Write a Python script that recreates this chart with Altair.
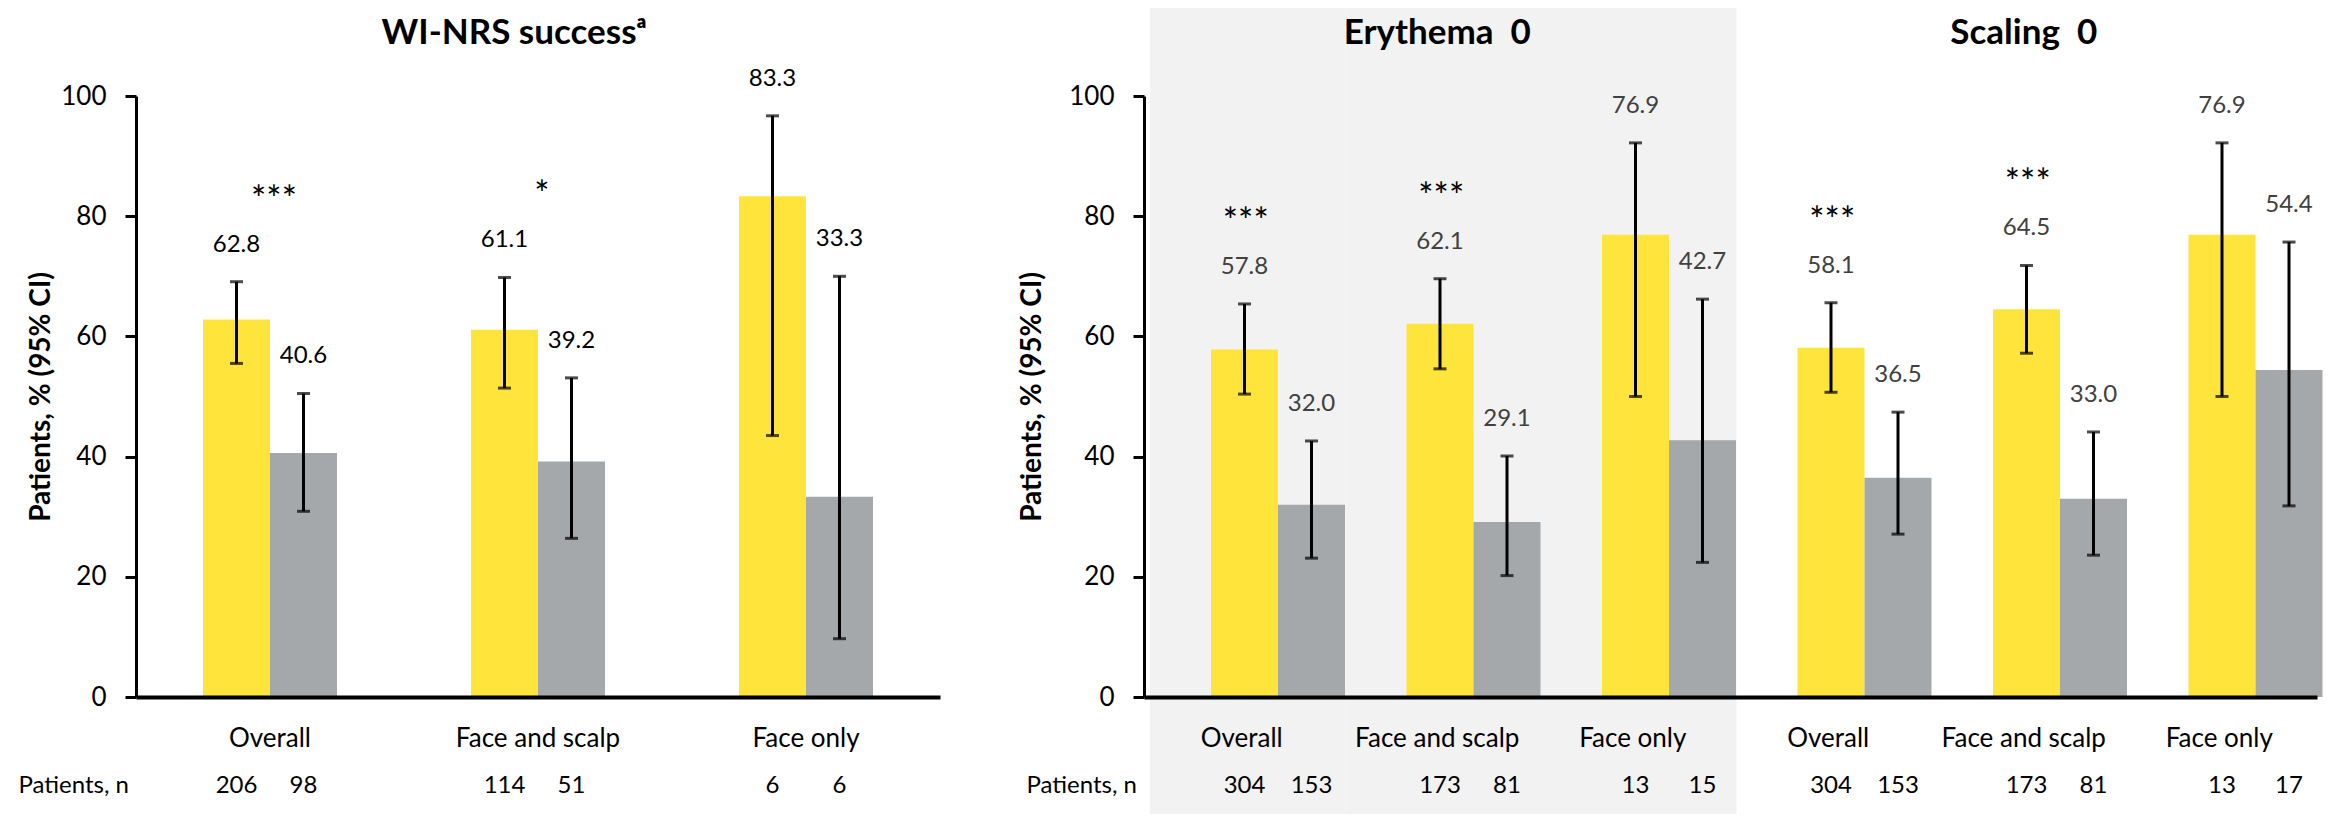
import altair as alt
import pandas as pd

# ---------------- data ----------------
cats = ["Overall", "Face and scalp", "Face only"]
arms = ["Treatment", "Comparator"]

# WI-NRS success
wi_pct = [62.8, 40.6, 61.1, 39.2, 83.3, 33.3]
wi_lo = [55.5, 30.9, 51.4, 26.4, 43.5, 9.7]
wi_hi = [69.1, 50.5, 69.8, 53.1, 96.7, 70.0]
wi_n = [206, 98, 114, 51, 6, 6]
wi_sig = ["***", "*", ""]

# Erythema 0
ery_pct = [57.8, 32.0, 62.1, 29.1, 76.9, 42.7]
ery_lo = [50.4, 23.1, 54.6, 20.2, 50.0, 22.4]
ery_hi = [65.4, 42.6, 69.6, 40.1, 92.2, 66.2]
ery_n = [304, 153, 173, 81, 13, 15]
ery_sig = ["***", "***", ""]

# Scaling 0
sc_pct = [58.1, 36.5, 64.5, 33.0, 76.9, 54.4]
sc_lo = [50.7, 27.1, 57.2, 23.6, 50.0, 31.8]
sc_hi = [65.6, 47.4, 71.8, 44.1, 92.2, 75.7]
sc_n = [304, 153, 173, 81, 13, 17]
sc_sig = ["***", "***", ""]

titles_wi = ["WI-NRS success\u1d43"]
titles_b = ["Erythema \u00a00", "Scaling \u00a00"]

# ---------------- style ----------------
YELLOW = "#FFE53B"
GREY = "#A5A8AB"
BG = "#F2F2F2"
FONT = "Lato"
H = 601
LABEL_GAP = 6.5
STAR_GAP = 15


def make_rows(key, pct, lo, hi, n):
    rows = []
    for i, c in enumerate(cats):
        for j, a in enumerate(arms):
            k = 2 * i + j
            rows.append({"slot": f"{key}|{c}", "arm": a, "pct": pct[k], "lo": lo[k],
                         "hi": hi[k], "n": str(n[k]), "lab": f"{pct[k]:.1f}",
                         "laby": hi[k] + LABEL_GAP})
    return rows


def make_stars(key, hi, sig):
    return [{"slot": f"{key}|{c}", "sig": s,
             "sy": max(hi[2 * i], hi[2 * i + 1]) + STAR_GAP}
            for i, (c, s) in enumerate(zip(cats, sig)) if s]


def panel(bar_rows, star_rows, title_rows, slots, width, outer, text_color,
          title_x, title_dx, bg_slots=None, guard=False):
    xs = alt.Scale(domain=slots, paddingInner=0, paddingOuter=0)
    xax = alt.Axis(title=None, labelExpr="split(datum.label, '|')[1]", ticks=False,
                   tickSize=0, domainColor="black", domainWidth=4, labelFont=FONT,
                   labelFontSize=26, labelColor="black", labelPadding=49,
                   labelBaseline="alphabetic", labelAngle=0, labelLimit=500, zindex=1)
    ys = alt.Scale(domain=[0, 100], nice=False, zero=True)
    yax = alt.Axis(title="Patients, % (95% CI)", values=[0, 20, 40, 60, 80, 100],
                   grid=False, tickSize=11, tickWidth=3, tickColor="black",
                   domainColor="black", domainWidth=3, labelFont=FONT, labelFontSize=26,
                   labelColor="black", labelPadding=19, titleFont=FONT, titleFontSize=28,
                   titleFontWeight="bold", titleColor="black", titleAngle=-90,
                   titleX=title_x, titleY=H / 2, titleAlign="center",
                   titleBaseline="middle", zindex=1)

    def X():
        return alt.X("slot:N", sort=slots, scale=xs, axis=xax)

    def XO():
        return alt.XOffset("arm:N", sort=arms,
                           scale=alt.Scale(domain=arms, paddingInner=0, paddingOuter=outer))

    def Y(f):
        return alt.Y(f"{f}:Q", scale=ys, axis=yax)

    bars_df = pd.DataFrame(bar_rows)
    layers = []
    if guard:
        layers.append(alt.Chart(pd.DataFrame({"g": [0]})).mark_rect(opacity=0).encode(
            x=alt.value(-128), x2=alt.value(0), y=alt.value(-88), y2=alt.value(718)))
    if bg_slots:
        layers.append(alt.Chart(pd.DataFrame({"slot": bg_slots})).mark_rect(color=BG).encode(
            x=X(), xOffset=alt.value(6), y=alt.value(-88), y2=alt.value(718)))
    base = alt.Chart(bars_df)
    layers.append(base.mark_bar().encode(
        x=X(), xOffset=XO(), y=Y("pct"),
        color=alt.Color("arm:N", sort=arms,
                        scale=alt.Scale(domain=arms, range=[YELLOW, GREY]), legend=None)))
    layers.append(base.mark_rule(color="black", strokeWidth=3).encode(
        x=X(), xOffset=XO(), y=Y("lo"), y2="hi:Q"))
    layers.append(base.mark_tick(color="black", thickness=3, size=13).encode(
        x=X(), xOffset=XO(), y=Y("lo")))
    layers.append(base.mark_tick(color="black", thickness=3, size=13).encode(
        x=X(), xOffset=XO(), y=Y("hi")))
    layers.append(base.mark_text(font=FONT, fontSize=24, color=text_color,
                                 baseline="alphabetic", dy=9).encode(
        x=X(), xOffset=XO(), y=Y("laby"), text="lab:N"))
    layers.append(alt.Chart(pd.DataFrame(star_rows)).mark_text(
        font=FONT, fontSize=36, color="black", baseline="alphabetic", dy=20, dx=4).encode(
        x=X(), y=Y("sy"), text="sig:N"))
    layers.append(base.mark_text(font=FONT, fontSize=24, color="black",
                                 baseline="alphabetic").encode(
        x=X(), xOffset=XO(), y=alt.value(697), text="n:N"))
    layers.append(alt.Chart(pd.DataFrame({"t": ["Patients, n"]})).mark_text(
        font=FONT, fontSize=24, color="black", align="right", baseline="alphabetic",
        dx=-7).encode(x=alt.value(0), y=alt.value(697), text="t:N"))
    layers.append(alt.Chart(pd.DataFrame(title_rows)).mark_text(
        font=FONT, fontSize=35, fontWeight="bold", color="black", baseline="alphabetic",
        dx=title_dx).encode(x=X(), y=alt.value(-52), text="title:N"))
    return alt.layer(*layers).properties(width=width, height=H)


slots_a = [f"W|{c}" for c in cats]
slots_b = [f"E|{c}" for c in cats] + [f"S|{c}" for c in cats]

A = panel(make_rows("W", wi_pct, wi_lo, wi_hi, wi_n),
          make_stars("W", wi_hi, wi_sig),
          [{"slot": "W|Face and scalp", "title": titles_wi[0]}],
          slots_a, 804, 1.0, "black", -95, -24, guard=True)

B = panel(make_rows("E", ery_pct, ery_lo, ery_hi, ery_n)
          + make_rows("S", sc_pct, sc_lo, sc_hi, sc_n),
          make_stars("E", ery_hi, ery_sig) + make_stars("S", sc_hi, sc_sig),
          [{"slot": "E|Face and scalp", "title": titles_b[0]},
           {"slot": "S|Face and scalp", "title": titles_b[1]}],
          slots_b, 1173, 0.4, "#404040", -112, 0, bg_slots=slots_b[:3])

chart = alt.hconcat(A, B, spacing=204, bounds="flush", padding=0).configure_view(stroke=None)

chart.save("out.html", embed_options={"renderer": "svg", "actions": False})
